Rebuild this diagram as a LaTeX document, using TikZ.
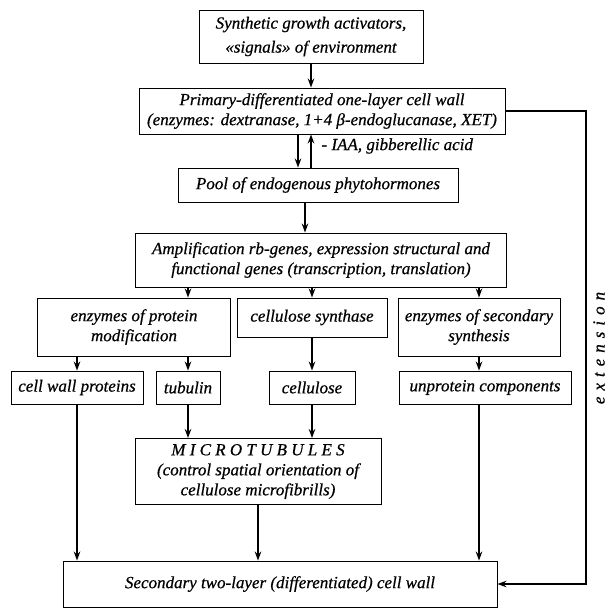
\documentclass[tikz,border=0pt]{standalone}
\usepackage{fontspec}
\setmainfont{Liberation Serif}[FakeBold = 0.6]
\usetikzlibrary{arrows.meta}
\usetikzlibrary{positioning}
\tikzset{box/.style = {draw, line width = 0.9pt, align = center, inner sep = 1pt, font = \itshape\fontsize{17}{20}\selectfont}}
\tikzset{arr/.style = {line width = 1.5pt, -{Stealth[length = 9pt, width = 6.5pt]}}}

\begin{document}
\begin{tikzpicture}[x = 1pt, y = -1pt]
       \useasboundingbox (0, 0) rectangle (612, 608);

       \node [box, minimum width = 224pt, minimum height = 53pt, font = \itshape\fontsize{17}{24}\selectfont] (top) at (311, 36.5) {Synthetic growth activators,\\«signals» of environment};
       \node [box, minimum width = 366pt, minimum height = 46pt] (prim) at (322, 111) {Primary-differentiated one-layer cell wall\\(enzymes: dextranase, 1+4 β-endoglucanase, XET)};
       \node [box, minimum width = 280pt, minimum height = 34pt] (pool) at (318, 185) {Pool of endogenous phytohormones};
       \node [box, minimum width = 371pt, minimum height = 54pt] (amp) at (321, 260) {Amplification rb-genes, expression structural and\\functional genes (transcription, translation)};

       \node [box, minimum width = 193pt, minimum height = 58pt] (enz) at (134, 327) {enzymes of protein\\modification};
       \node [box, minimum width = 150pt, minimum height = 39pt] (syn) at (312, 317.5) {cellulose synthase};
       \node [box, minimum width = 162pt, minimum height = 58pt] (sec) at (479, 327) {enzymes of secondary\\synthesis};

       \node [box, minimum width = 132pt, minimum height = 33pt] (cwp) at (77, 387.5) {cell wall proteins};
       \node [box, minimum width = 64pt, minimum height = 33pt] (tub) at (188, 387.5) {tubulin};
       \node [box, minimum width = 86pt, minimum height = 33pt] (cel) at (312, 387.5) {cellulose};
       \node [box, minimum width = 172pt, minimum height = 33pt] (unp) at (485, 387.5) {unprotein components};

       \node [box, minimum width = 246pt, minimum height = 66pt] (mt) at (258, 471.5) {M I C R O T U B U L E S\\(control spatial orientation of\\cellulose microfibrills)};
       \node [box, minimum width = 434pt, minimum height = 46pt] (bot) at (280, 584) {Secondary two-layer (differentiated) cell wall};

       \node [anchor = west, font = \itshape\fontsize{17}{20}\selectfont] (iaa) at (318, 146) {- IAA, gibberellic acid};
       \node [rotate = 90, font = \itshape\fontsize{17}{20}\selectfont] (ext) at (599, 348) {e\kern6pt x\kern6pt t\kern6pt e\kern6pt n\kern6pt s\kern6pt i\kern6pt o\kern6pt n};

       \coordinate (dn) at (298, 0);
       \coordinate (up) at (311, 0);
       \coordinate (mid) at (305, 0);
       \coordinate (side) at (586, 0);

       \draw [arr] (top) -- (prim.north -| top);
       \draw [arr] (prim.south -| dn) -- (pool.north -| dn);
       \draw [arr] (pool.north -| up) -- (prim.south -| up);
       \draw [arr] (pool.south -| mid) -- (amp.north -| mid);

       \draw [arr] (amp.south -| tub) -- (enz.north -| tub);
       \draw [arr] (amp.south -| syn) -- (syn.north);
       \draw [arr] (amp.south -| sec) -- (sec.north);

       \draw [arr] (enz.south -| cwp) -- (cwp.north);
       \draw [arr] (enz.south -| tub) -- (tub.north);
       \draw [arr] (syn.south) -- (cel.north -| syn);
       \draw [arr] (sec.south) -- (unp.north -| sec);

       \draw [arr] (tub.south) -- (mt.north -| tub);
       \draw [arr] (cel.south) -- (mt.north -| cel);

       \draw [arr] (cwp.south) -- (bot.north -| cwp);
       \draw [arr] (mt.south) -- (bot.north -| mt);
       \draw [arr] (unp.south -| sec) -- (bot.north -| sec);

       \draw [arr, line width = 1.8pt] (prim.east) -- (prim.east -| side) -- (side |- bot.east) -- (bot.east);
\end{tikzpicture}
\end{document}
